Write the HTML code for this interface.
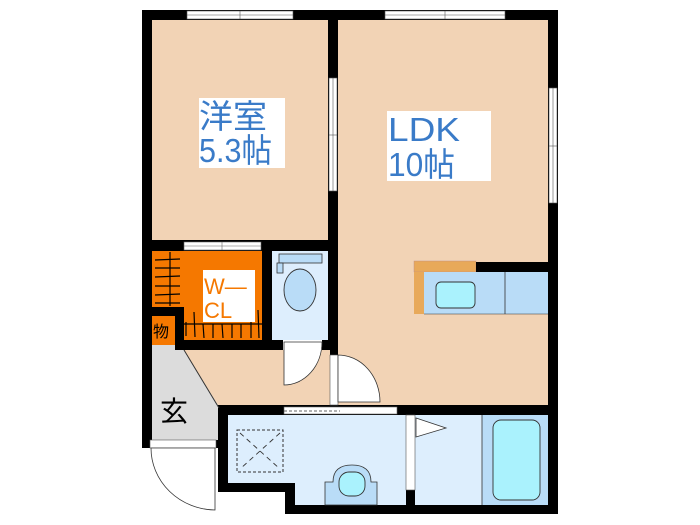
<!DOCTYPE html>
<html><head><meta charset="utf-8"><style>
html,body{margin:0;padding:0;background:#fff;}
svg{display:block;}
text{font-family:"Liberation Sans","Noto Sans CJK JP",sans-serif;}
</style></head><body>
<svg width="700" height="525" viewBox="0 0 700 525" xmlns="http://www.w3.org/2000/svg">
<rect x="142" y="10" width="416" height="240" fill="#000"/>
<rect x="142" y="240" width="416" height="175" fill="#000"/>
<rect x="142" y="400" width="86" height="48" fill="#000"/>
<rect x="218" y="405" width="340" height="87" fill="#000"/>
<rect x="285" y="480" width="273" height="34" fill="#000"/>
<rect x="152" y="20" width="176" height="220" fill="#f2d3b5"/>
<rect x="338" y="20" width="210" height="385" fill="#f2d3b5"/>
<rect x="184" y="350" width="146" height="55" fill="#f2d3b5"/>
<polygon points="152,345 184,345 184,350 218,405 218,440 152,440" fill="#dcdcdc"/>
<line x1="184" y1="350" x2="219" y2="408" stroke="#333" stroke-width="1"/>
<rect x="152" y="251" width="110" height="89" fill="#f57800"/>
<rect x="152" y="307" width="32" height="9" fill="#000"/>
<rect x="175" y="307" width="9" height="43" fill="#000"/>
<rect x="152" y="316" width="23" height="29" fill="#f57800"/>
<rect x="176" y="340" width="152" height="10" fill="#000"/>
<g stroke="#000" stroke-width="1.2">
<line x1="155" y1="260" x2="180" y2="259"/><line x1="155" y1="268" x2="180" y2="268"/><line x1="155" y1="277" x2="180" y2="276"/><line x1="155" y1="286" x2="180" y2="286"/><line x1="155" y1="295" x2="180" y2="294"/><line x1="155" y1="303" x2="180" y2="303"/>
<line x1="170" y1="252" x2="170" y2="306"/>
<line x1="186" y1="322" x2="186" y2="336"/><line x1="194" y1="312" x2="195" y2="337"/><line x1="203" y1="324" x2="204" y2="338"/><line x1="213" y1="324" x2="213" y2="338"/><line x1="222" y1="324" x2="223" y2="338"/><line x1="232" y1="324" x2="232" y2="338"/><line x1="241" y1="324" x2="241" y2="338"/><line x1="251" y1="320" x2="251" y2="338"/><line x1="258" y1="310" x2="259" y2="338"/>
<line x1="184" y1="324" x2="262" y2="324"/>
</g>
<rect x="203" y="270" width="52" height="52" fill="#fff"/>
<text x="204" y="294" font-size="22" fill="#f57800">W—</text>
<text x="204" y="318" font-size="22" fill="#f57800">CL</text>
<text x="153" y="337" font-size="16" fill="#000">物</text>
<rect x="184" y="242" width="77" height="8" fill="#fff" stroke="#666" stroke-width="0.6"/>
<line x1="184" y1="246" x2="261" y2="246" stroke="#666" stroke-width="0.6"/>
<line x1="222" y1="242" x2="222" y2="250" stroke="#666" stroke-width="0.6"/>
<rect x="272" y="251" width="56" height="89" fill="#ddeefd"/>
<rect x="279" y="254" width="43" height="9" fill="#b9dcf7" stroke="#333" stroke-width="0.8"/>
<rect x="277" y="263" width="6" height="10" fill="#b9dcf7" stroke="#333" stroke-width="0.8"/>
<ellipse cx="300" cy="290" rx="16" ry="21" fill="#b9dcf7" stroke="#333" stroke-width="0.9"/>
<rect x="283" y="340" width="39" height="10" fill="#fff"/>
<path d="M284,342 L284,385 A38,43 0 0 0 322,342 Z" fill="#fff" stroke="#333" stroke-width="0.8"/>
<rect x="330" y="355" width="8" height="50" fill="#fff" stroke="#555" stroke-width="0.6"/>
<path d="M338,355 L338,402 L380,402 A42,47 0 0 0 338,355 Z" fill="#fff" stroke="#333" stroke-width="0.8"/>
<rect x="228" y="415" width="178" height="68" fill="#ddeefd"/>
<rect x="295" y="415" width="111" height="90" fill="#ddeefd"/>
<rect x="415" y="415" width="67" height="90" fill="#ddeefd"/>
<rect x="482" y="415" width="66" height="90" fill="#b9dcf7"/>
<line x1="482" y1="415" x2="482" y2="505" stroke="#333" stroke-width="0.8"/>
<rect x="493" y="420" width="47" height="80" rx="8" fill="#aaf2fd" stroke="#333" stroke-width="0.9"/>
<rect x="406" y="415" width="9" height="75" fill="#fff" stroke="#555" stroke-width="0.6"/>
<polygon points="416,418 446,428 416,437" fill="#fff" stroke="#333" stroke-width="0.8"/>
<rect x="284" y="407" width="113" height="7" fill="#fff" stroke="#666" stroke-width="0.6"/>
<line x1="284" y1="411" x2="340" y2="411" stroke="#666" stroke-width="1" stroke-dasharray="3,2"/>
<rect x="237" y="430" width="46" height="42" fill="none" stroke="#333" stroke-width="1" stroke-dasharray="3,2"/>
<line x1="240" y1="433" x2="280" y2="469" stroke="#333" stroke-width="0.9" stroke-dasharray="5,4"/>
<line x1="280" y1="433" x2="240" y2="469" stroke="#333" stroke-width="0.9" stroke-dasharray="5,4"/>
<path d="M325,505 L325,482 L333,482 Q333,465 352,465 Q371,465 371,482 L377,482 L377,505 Z" fill="#b9dcf7" stroke="#333" stroke-width="0.8"/>
<rect x="339" y="472" width="26" height="24" rx="10" fill="#aaf2fd" stroke="#333" stroke-width="0.9"/>
<rect x="414" y="261" width="62" height="11" fill="#e8a95a" stroke="#b88" stroke-width="0.4"/>
<rect x="414" y="272" width="10" height="42" fill="#e8a95a"/>
<rect x="476" y="262" width="72" height="10" fill="#000"/>
<rect x="424" y="272" width="124" height="42" fill="#b9dcf7"/>
<line x1="505" y1="272" x2="505" y2="314" stroke="#333" stroke-width="0.8"/>
<line x1="424" y1="314" x2="548" y2="314" stroke="#333" stroke-width="0.6"/>
<rect x="436" y="282" width="39" height="26" rx="5" fill="#aaf2fd" stroke="#333" stroke-width="0.9"/>
<rect x="150" y="440" width="66" height="8" fill="#fff" stroke="#555" stroke-width="0.6"/>
<path d="M215,448 L215,510 A65,62 0 0 1 151,448 Z" fill="#fff" stroke="#333" stroke-width="0.8"/>
<g fill="#fff" stroke="#555" stroke-width="0.6">
<rect x="187" y="11" width="106" height="8"/>
<rect x="385" y="11" width="120" height="8"/>
<rect x="329" y="78" width="8" height="113"/>
<rect x="549" y="88" width="8" height="115"/>
</g>
<g stroke="#555" stroke-width="0.6">
<line x1="187" y1="15" x2="293" y2="15"/><line x1="240" y1="11" x2="240" y2="19"/>
<line x1="385" y1="15" x2="505" y2="15"/><line x1="445" y1="11" x2="445" y2="19"/>
<line x1="333" y1="78" x2="333" y2="191"/><line x1="329" y1="135" x2="337" y2="135"/>
<line x1="553" y1="88" x2="553" y2="203"/><line x1="549" y1="146" x2="557" y2="146"/>
</g>
<rect x="199" y="98" width="86" height="70" fill="#fff"/>
<text x="199" y="128" font-size="33" fill="#3a7bc8" textLength="68" lengthAdjust="spacingAndGlyphs">洋室</text>
<text x="199" y="162" font-size="33" fill="#3a7bc8" textLength="73" lengthAdjust="spacingAndGlyphs">5.3帖</text>
<rect x="387" y="111" width="104" height="70" fill="#fff"/>
<text x="388" y="141" font-size="33" fill="#3a7bc8" textLength="72" lengthAdjust="spacingAndGlyphs">LDK</text>
<text x="388" y="176" font-size="33" fill="#3a7bc8" textLength="67" lengthAdjust="spacingAndGlyphs">10帖</text>
<text x="160" y="421" font-size="28" fill="#000">玄</text>
</svg>
</body></html>
